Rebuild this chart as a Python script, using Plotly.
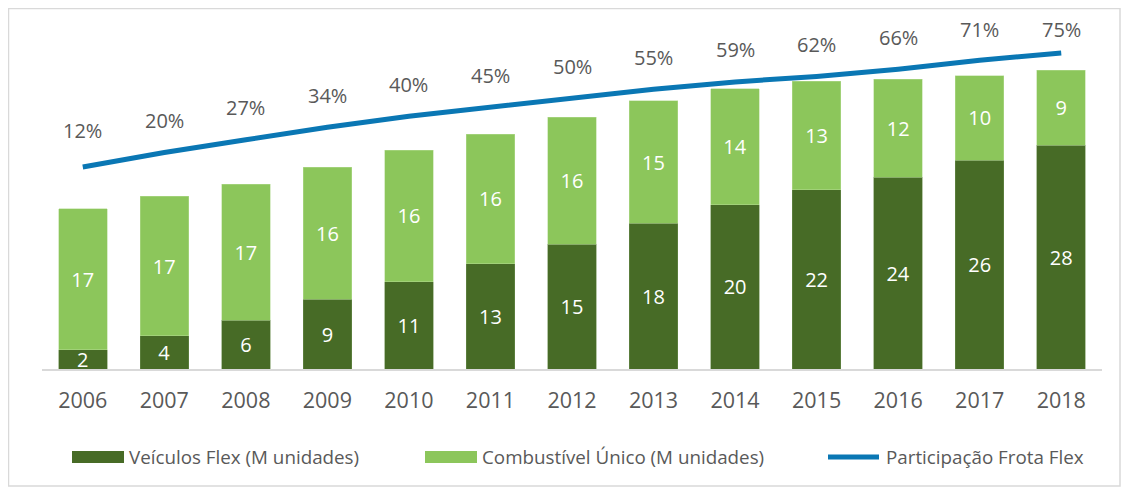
import plotly.graph_objects as go

years = ["2006", "2007", "2008", "2009", "2010", "2011", "2012",
         "2013", "2014", "2015", "2016", "2017", "2018"]
flex = [2.4, 4.1, 6.0, 8.6, 10.8, 13.0, 15.4, 18.0, 20.3, 22.1, 23.7, 25.8, 27.6]
single = [17.4, 17.2, 16.8, 16.3, 16.2, 16.0, 15.7, 15.1, 14.3, 13.4, 12.1, 10.4, 9.3]
share = [12, 20, 27, 34, 40, 45, 50, 55, 59, 62, 66, 71, 75]
names = ["Veículos Flex (M unidades)", "Combustível Único (M unidades)", "Participação Frota Flex"]

DARK = "#476b26"
LIGHT = "#8cc65b"
BLUE = "#0a77b4"
TXT = "#595959"
FONT = "Open Sans"

fig = go.Figure()
fig.add_trace(go.Bar(x=years, y=flex, name=names[0], marker=dict(color=DARK, line=dict(color="#6e8f52", width=0.5)),
                     texttemplate="%{y:.0f}", textposition="inside", insidetextanchor="middle",
                     textangle=0, constraintext="none",
                     textfont=dict(color="white", size=20, family=FONT), showlegend=False))
fig.add_trace(go.Bar(x=years, y=single, name=names[1], marker=dict(color=LIGHT, line=dict(color="#b5dc95", width=0.5)),
                     texttemplate="%{y:.0f}", textposition="inside", insidetextanchor="middle",
                     textangle=0, constraintext="none",
                     textfont=dict(color="white", size=20, family=FONT), showlegend=False))
fig.add_trace(go.Scatter(x=years, y=share, name=names[2], yaxis="y2", mode="lines",
                         line=dict(color=BLUE, width=5), showlegend=False))

OFF = 8  # page offset of the figure (body margin)
W, H = 1129 - OFF, 493 - OFF
plot_l, plot_r, plot_t, plot_b = 42, 1102, 20, 369  # page coords
ml, mt = plot_l - OFF, plot_t - OFF
mr = W - (plot_r - OFF)
mb = H - (plot_b - OFF)
pw, ph = W - ml - mr, H - mt - mb
Y2_ZERO, Y2_PX = 188.7, 1.81  # page y of 0% and px per percentage point

annotations = []
for i, s in enumerate(share):
    pt_y = Y2_ZERO - Y2_PX * s
    shift = min(32, pt_y - 29) if i else 36
    annotations.append(dict(x=i, y=s, xref="x", yref="y2", text=f"{s}%", showarrow=False,
                            yshift=shift, font=dict(size=20, color=TXT, family=FONT)))

def px(x):
    return (x - OFF - ml) / pw

def py(y):
    return (H - mb - (y - OFF)) / ph

shapes = [dict(type="rect", xref="paper", yref="paper", x0=px(8.5), x1=px(1120), y0=py(8.5), y1=py(486),
               line=dict(color="#d9d9d9", width=1.5), fillcolor="rgba(0,0,0,0)", layer="below")]

# custom legend
leg_y = 457
leg_items = [(72, 124, DARK, "rect"), (425, 477, LIGHT, "rect"), (826, 881, BLUE, "line")]
for (x0, x1, col, kind), nm in zip(leg_items, names):
    if kind == "rect":
        shapes.append(dict(type="rect", xref="paper", yref="paper", x0=px(x0), x1=px(x1),
                           y0=py(leg_y + 6), y1=py(leg_y - 6), fillcolor=col, line=dict(width=0)))
    else:
        shapes.append(dict(type="line", xref="paper", yref="paper", x0=px(x0 + 2), x1=px(x1 - 2),
                           y0=py(leg_y), y1=py(leg_y), line=dict(color=col, width=5)))
    annotations.append(dict(x=px(x1 + 3), y=py(leg_y), xref="paper", yref="paper", text=nm,
                            showarrow=False, xanchor="left", yanchor="middle",
                            font=dict(size=18.8, color=TXT, family=FONT)))

fig.update_layout(
    width=W, height=H, margin=dict(l=ml, r=mr, t=mt, b=mb),
    barmode="stack", bargap=0.405,
    plot_bgcolor="white", paper_bgcolor="white",
    font=dict(family=FONT, color=TXT),
    xaxis=dict(type="category", range=[-0.5, len(years) - 0.5], showgrid=False, showline=True,
               linecolor="#d9d9d9", linewidth=1.5,
               ticks="", tickfont=dict(size=21.5, color=TXT, family=FONT), ticklabelstandoff=11),
    yaxis=dict(range=[0, ph / 8.1], visible=False, showgrid=False),
    yaxis2=dict(range=[(Y2_ZERO - plot_b) / Y2_PX, (Y2_ZERO - plot_t) / Y2_PX], overlaying="y",
                visible=False, showgrid=False),
    annotations=annotations, shapes=shapes,
)

fig.write_html("out.html")
